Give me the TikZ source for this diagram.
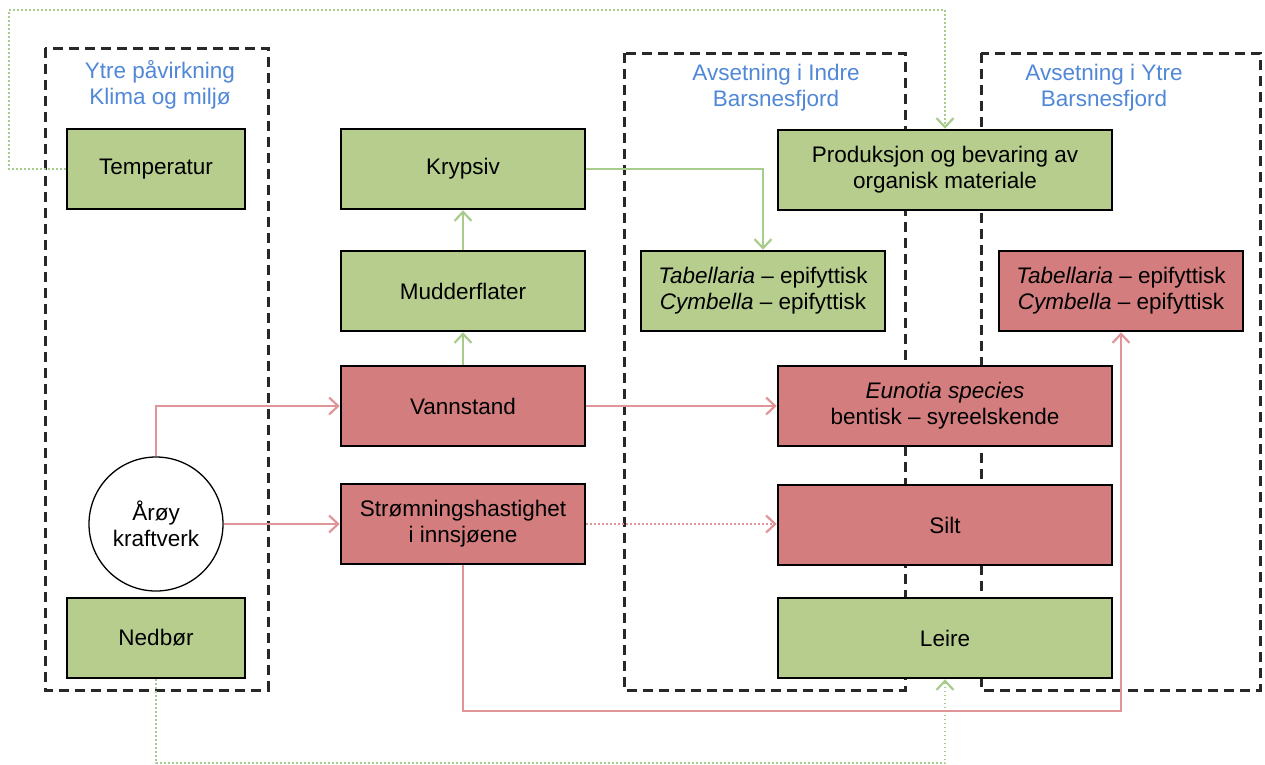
\documentclass[tikz,border=0pt]{standalone}
\usepackage{fontspec}
\setmainfont{Liberation Sans}
\usetikzlibrary{arrows.meta,shapes.geometric}
\definecolor{gfill}{RGB}{182,205,142}
\definecolor{rfill}{RGB}{211,125,126}
\definecolor{gline}{RGB}{168,204,140}
\definecolor{rline}{RGB}{224,150,152}
\definecolor{lblue}{RGB}{80,135,215}
\definecolor{frame}{RGB}{40,40,40}
\tikzset{
  box/.style={rectangle, draw=black, line width=2.6pt, align=center, inner sep=0pt,
    font=\fontsize{22.5}{26}\selectfont},
  gbox/.style={box, fill=gfill},
  rbox/.style={box, fill=rfill},
  frm/.style={draw=frame, line width=3pt, dash pattern=on 10pt off 6pt},
  lbl/.style={text=lblue, align=center, font=\fontsize{22.5}{26}\selectfont},
  garr/.style={draw=gline, line width=2.2pt, -{Straight Barb[length=9pt,width=17pt,line width=2.2pt]}},
  rarr/.style={draw=rline, line width=2.2pt, -{Straight Barb[length=9pt,width=17pt,line width=2.2pt]}},
  gdot/.style={garr, dash pattern=on 1.8pt off 2.2pt},
  rdot/.style={rarr, dash pattern=on 1.8pt off 2.2pt},
}
\begin{document}
\begin{tikzpicture}[x=1pt,y=-1pt]
\useasboundingbox (0,0) rectangle (1265,764);
% frames
\draw[frm] (45,48) rectangle (268,690);
\draw[frm] (624,53) rectangle (905,690);
\draw[frm] (981,53) rectangle (1260,690);
\node[lbl] (l1) at (160,85) {Ytre påvirkning\\Klima og miljø};
\node[lbl] (l2) at (776,88) {Avsetning i Indre\\Barsnesfjord};
\node[lbl] (l3) at (1104,88) {Avsetning i Ytre\\Barsnesfjord};
% boxes
\node[gbox, minimum width=178, minimum height=80] (temp) at (156,169) {Temperatur};
\node[gbox, minimum width=178, minimum height=80] (ned) at (156,638) {Nedbør};
\node[circle, draw=black, line width=1.3pt, fill=white, minimum size=134, inner sep=0pt, align=center,
  font=\fontsize{22.5}{26}\selectfont] (aroy) at (156,524) {Årøy\\kraftverk};
\node[gbox, minimum width=244, minimum height=80] (kryp) at (463,169) {Krypsiv};
\node[gbox, minimum width=244, minimum height=80] (mud) at (463,291) {Mudderflater};
\node[rbox, minimum width=244, minimum height=80] (vann) at (463,406) {Vannstand};
\node[rbox, minimum width=244, minimum height=80] (strom) at (463,524) {Strømningshastighet\\i innsjøene};
\node[gbox, minimum width=334, minimum height=80] (prod) at (945,170) {Produksjon og bevaring av\\organisk materiale};
\node[gbox, minimum width=244, minimum height=80] (tabI) at (763,291) {\textit{Tabellaria} – epifyttisk\\\textit{Cymbella} – epifyttisk};
\node[rbox, minimum width=244, minimum height=80] (tabY) at (1121,291) {\textit{Tabellaria} – epifyttisk\\\textit{Cymbella} – epifyttisk};
\node[rbox, minimum width=334, minimum height=80] (eun) at (945,406) {\textit{Eunotia species}\\bentisk – syreelskende};
\node[rbox, minimum width=334, minimum height=80] (silt) at (945,525) {Silt};
\node[gbox, minimum width=334, minimum height=80] (leire) at (945,638) {Leire};
% connectors
\coordinate (c1) at (9,10);
\coordinate (c2) at (463,711);
\draw[gdot] (temp.west) -- (temp.west -| c1) -- (c1) -| (prod.north);
\draw[gdot] (ned.south) -- ++(0,84) -| (leire.south);
\draw[garr] (mud.north) -- (kryp.south);
\draw[garr] (vann.north) -- (mud.south);
\draw[garr] (kryp.east) -| (tabI.north);
\draw[rarr] (aroy.north) |- (vann.west);
\draw[rarr] (aroy.east) -- (strom.west);
\draw[rarr] (vann.east) -- (eun.west);
\draw[rdot] (strom.east) -- (silt.west |- strom.east);
\draw[rarr] (strom.south) -- (c2) -| (tabY.south);
\end{tikzpicture}
\end{document}
